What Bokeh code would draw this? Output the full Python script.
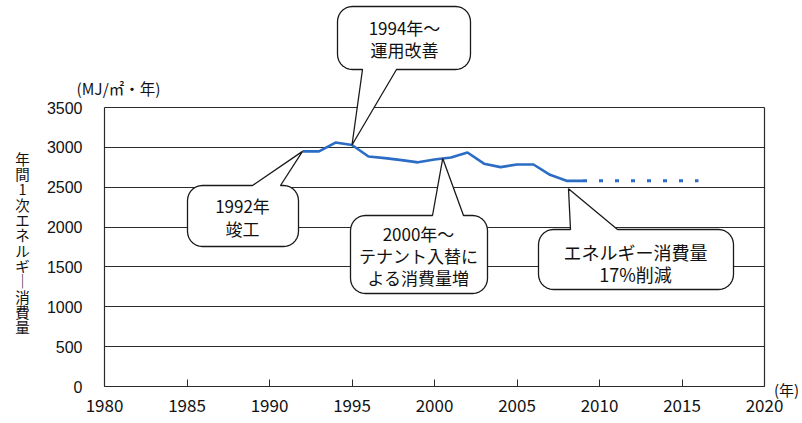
import numpy as np
from bokeh.plotting import figure
from bokeh.models import Range1d, FixedTicker, LinearAxis, Label, ColumnDataSource
from bokeh.core.properties import value
from bokeh.embed import file_html
from bokeh.resources import INLINE

# ---- data ----
years = [1992, 1993, 1994, 1995, 1996, 1997, 1998, 1999, 2000,
         2001, 2002, 2003, 2004, 2005, 2006, 2007, 2008, 2009]
energy = [2950, 2950, 3060, 3030, 2885, 2865, 2840, 2812, 2848,
          2873, 2935, 2795, 2752, 2785, 2785, 2656, 2580, 2580]
proj_years = [2009, 2010, 2011, 2012, 2013, 2014, 2015, 2016]
proj_energy = [2580, 2580, 2580, 2580, 2580, 2580, 2580, 2580]
x_ticks = [1980, 1985, 1990, 1995, 2000, 2005, 2010, 2015, 2020]
y_ticks = [0, 500, 1000, 1500, 2000, 2500, 3000, 3500]

JP = "Noto Sans CJK JP"
INK = "#111111"
RULE = "#2a2a2a"

# ---- layout geometry (pixels) ----
W, H = 802, 423
AX_L, AX_R = 104, 764      # pixel columns of 1980 and 2020
AX_T, AX_B = 107, 386      # pixel rows of 3500 and 0
X0, X1, YMAX = 1980, 2020, 3500
PXY = (AX_R - AX_L) / (X1 - X0)
PPU = (AX_B - AX_T) / YMAX

def to_data(px, py):
    return X0 + (px - AX_L) / PXY, (AX_B - py) / PPU

def to_px(x, y):
    return AX_L + (x - X0) * PXY, AX_B - y * PPU

x_lo, y_hi = to_data(0, 0)
x_hi, y_lo = to_data(W, H)

p = figure(width=W, height=H, x_range=Range1d(x_lo, x_hi), y_range=Range1d(y_lo, y_hi),
           output_backend="svg", toolbar_location=None,
           min_border_left=0, min_border_right=0, min_border_top=0, min_border_bottom=0)
p.outline_line_color = None
p.background_fill_color = "white"
p.border_fill_color = "white"

# grid
p.xgrid.visible = False
g = p.ygrid[0]
g.ticker = FixedTicker(ticks=y_ticks)
g.grid_line_color = RULE
g.grid_line_width = 1.2
g.cross_bounds = (X0, X1)

# y axis (left)
ya = p.yaxis[0]
ya.fixed_location = X0
ya.ticker = FixedTicker(ticks=y_ticks)
ya.bounds = (0, YMAX)
ya.major_tick_line_color = None
ya.minor_tick_line_color = None
ya.axis_line_color = RULE
ya.axis_line_width = 1.2
ya.major_label_standoff = 16
ya.major_label_text_font = "Liberation Sans"
ya.major_label_text_font_size = "16px"
ya.major_label_text_color = INK

# x axis (below)
xa = p.xaxis[0]
xa.fixed_location = 0
xa.ticker = FixedTicker(ticks=x_ticks)
xa.bounds = (X0, X1)
xa.major_tick_in = 7
xa.major_tick_out = 0
xa.major_tick_line_color = RULE
xa.minor_tick_line_color = None
xa.axis_line_color = RULE
xa.axis_line_width = 1.2
xa.major_label_standoff = 12
xa.major_label_text_font = JP
xa.major_label_text_font_size = "17px"
xa.major_label_text_color = INK

# right frame edge
right_axis = LinearAxis(fixed_location=X1, ticker=FixedTicker(ticks=[]), bounds=(0, YMAX),
                        axis_line_color=RULE, axis_line_width=1.2, major_tick_line_color=None,
                        minor_tick_line_color=None, major_label_text_color=None)
p.add_layout(right_axis, "right")

# ---- data lines ----
src = ColumnDataSource(dict(x=years, y=energy))
p.line("x", "y", source=src, line_color="#2b6cc4", line_width=2.6)
src2 = ColumnDataSource(dict(x=proj_years, y=proj_energy))
p.line("x", "y", source=src2, line_color="#2b6cc4", line_width=3, line_dash="4 12")

# ---- speech bubbles ----
def bubble(l, t, r, b, rad, side, b1, b2, tip):
    pts = []
    def arc(cx, cy, a0, a1):
        for a in np.linspace(np.radians(a0), np.radians(a1), 8):
            pts.append((cx + rad * np.cos(a), cy - rad * np.sin(a)))
    arc(l + rad, t + rad, 180, 90)
    if side == "top":
        pts += [(b1, t), tip, (b2, t)]
    arc(r - rad, t + rad, 90, 0)
    arc(r - rad, b - rad, 0, -90)
    if side == "bottom":
        pts += [(b2, b), tip, (b1, b)]
    arc(l + rad, b - rad, -90, -180)
    xs, ys = zip(*[to_data(px, py) for px, py in pts])
    p.patch(list(xs), list(ys), fill_color="white", line_color="#1a1a1a", line_width=1.3)

def tip_at(x, y, dx=0, dy=0):
    px, py = to_px(x, y)
    return (px + dx, py + dy)

i92, i95, i00, i01, i08 = (years.index(v) for v in (1992, 1995, 2000, 2001, 2008))

bubble(337, 6, 470, 69, 15, "bottom", 362, 396, tip_at(years[i95], energy[i95]))
bubble(187, 185, 298, 246, 15, "top", 252, 280, tip_at(years[i92], energy[i92]))
bubble(350, 215, 487, 293, 15, "top", 432, 463,
       tip_at((years[i00] + years[i01]) / 2, (energy[i00] + energy[i01]) / 2))
bubble(538, 229, 733, 289, 15, "top", 570, 617, tip_at(years[i08], energy[i08], 2, 8))

def texts(cx, cys, lines, size):
    xs, ys = [], []
    for cy in cys:
        dx, dy = to_data(cx, cy)
        xs.append(dx)
        ys.append(dy)
    s = ColumnDataSource(dict(x=xs, y=ys, t=lines))
    p.text("x", "y", text="t", source=s, text_align="center", text_baseline="middle",
           text_font=value(JP), text_font_size=size, text_color=INK)

texts(404, [27, 49], ["1994年～", "運用改善"], "17px")
texts(242, [205, 228], ["1992年", "竣工"], "17px")
texts(418, [233, 255, 277], ["2000年～", "テナント入替に", "よる消費量増"], "17px")
texts(635, [251, 273], ["エネルギー消費量", "17%削減"], "18px")

# ---- unit labels and axis title ----
def label(px, py, text, size, **kw):
    x, y = to_data(px, py)
    p.add_layout(Label(x=x, y=y, text=text, text_font=JP, text_font_size=size,
                       text_align="center", text_baseline="middle", text_color=INK, **kw))

label(118, 87, "(MJ/㎡・年)", "15.5px")
label(786, 389, "(年)", "15px")
label(22, 242, "\n".join(list("年間1次エネルギ")) + "\n｜\n" + "\n".join(list("消費量")),
      "14.5px", text_line_height=0.73)

open("out.html", "w").write(file_html(p, INLINE))
